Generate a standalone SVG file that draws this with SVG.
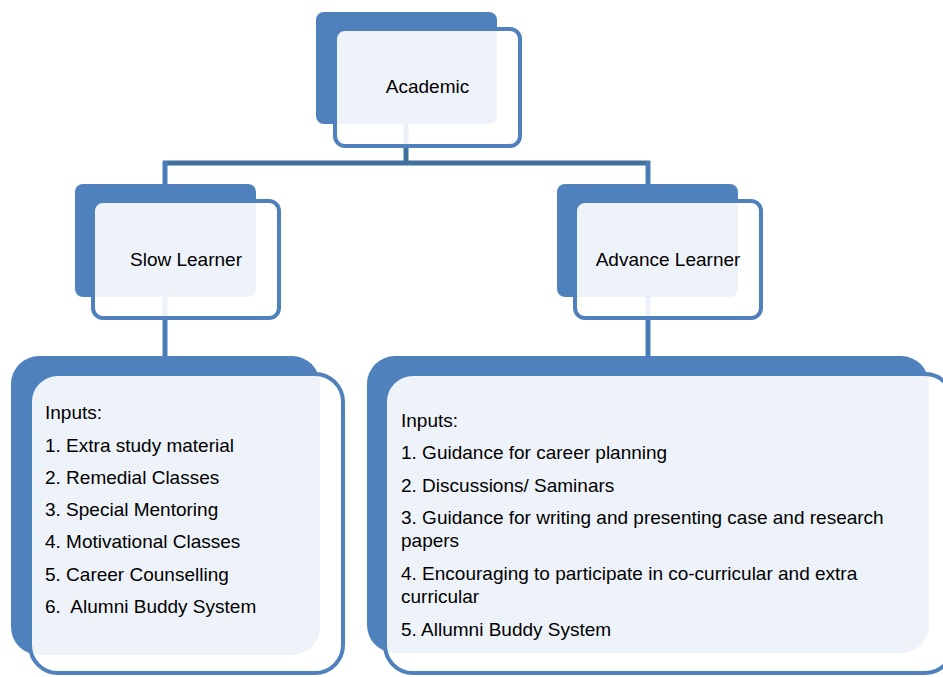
<svg xmlns="http://www.w3.org/2000/svg" width="943" height="677" viewBox="0 0 943 677">
<style>
.dark{fill:#4F81BD;}
.card{fill:#FFFFFF;fill-opacity:0.9;stroke:#4F81BD;stroke-width:4;}
.t{font-family:"Liberation Sans",Arial,sans-serif;font-size:19px;fill:#000;}
.c{text-anchor:middle;}
.ln{stroke:#4A7CB8;stroke-width:5;fill:none;}
.hl{stroke:#41709C;stroke-width:5;fill:none;}
</style>
<rect width="943" height="677" fill="#FFFFFF"/>
<g id="connectors">
<line class="hl" x1="406" y1="120" x2="406" y2="163"/>
<line class="hl" x1="163" y1="163" x2="650" y2="163"/>
<line class="ln" x1="165" y1="161" x2="165" y2="190"/>
<line class="ln" x1="648" y1="161" x2="648" y2="190"/>
<line class="ln" x1="165" y1="290" x2="165" y2="360"/>
<line class="ln" x1="648" y1="290" x2="648" y2="360"/>
</g>
<g id="academic">
<rect class="dark" x="316" y="12" width="181" height="112" rx="8"/>
<rect class="card" x="335" y="29" width="185" height="117" rx="10"/>
<text class="t c" x="427.5" y="93">Academic</text>
</g>
<g id="slow-learner">
<rect class="dark" x="75" y="184" width="181" height="113" rx="8"/>
<rect class="card" x="93" y="201" width="186" height="117" rx="10"/>
<text class="t c" x="186" y="266">Slow Learner</text>
</g>
<g id="advance-learner">
<rect class="dark" x="557" y="184" width="181" height="113" rx="8"/>
<rect class="card" x="575" y="201" width="186" height="117" rx="10"/>
<text class="t c" x="668" y="266">Advance Learner</text>
</g>
<g id="slow-inputs">
<rect class="dark" x="11" y="356" width="309" height="299" rx="28"/>
<rect class="card" x="30" y="374" width="313" height="299" rx="28"/>
<text class="t" x="45" y="419">Inputs:</text>
<text class="t" x="45" y="451.5">1. Extra study material</text>
<text class="t" x="45" y="483.5">2. Remedial Classes</text>
<text class="t" x="45" y="516">3. Special Mentoring</text>
<text class="t" x="45" y="548">4. Motivational Classes</text>
<text class="t" x="45" y="580.5">5. Career Counselling</text>
<text class="t" x="45" y="612.5" xml:space="preserve">6.  Alumni Buddy System</text>
</g>
<g id="advance-inputs">
<rect class="dark" x="367" y="356" width="562" height="297" rx="28"/>
<rect class="card" x="385" y="374" width="568" height="299" rx="28"/>
<text class="t" x="401" y="426.5">Inputs:</text>
<text class="t" x="401" y="459">1. Guidance for career planning</text>
<text class="t" x="401" y="491.5">2. Discussions/ Saminars</text>
<text class="t" x="401" y="523.5">3. Guidance for writing and presenting case and research</text>
<text class="t" x="401" y="547">papers</text>
<text class="t" x="401" y="580">4. Encouraging to participate in co-curricular and extra</text>
<text class="t" x="401" y="603">curricular</text>
<text class="t" x="401" y="636">5. Allumni Buddy System</text>
</g>
</svg>
